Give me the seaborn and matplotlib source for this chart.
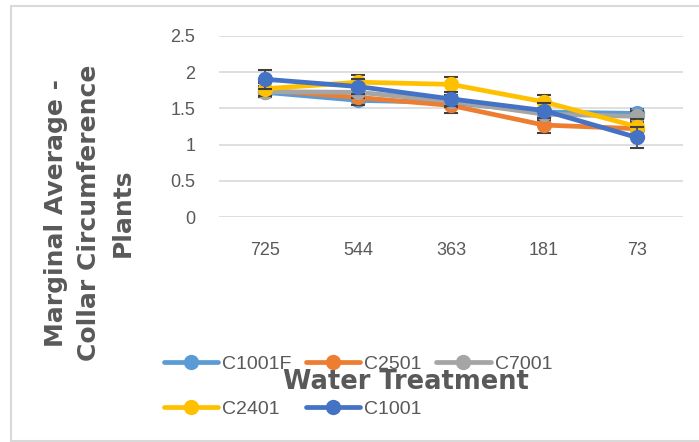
import pandas as pd
import matplotlib.pyplot as plt
import seaborn as sns
from matplotlib.lines import Line2D

# valores
tratamientos = ["725", "544", "363", "181", "73"]
series = ["C1001F", "C2501", "C7001", "C2401", "C1001"]
colores = ["#5B9BD5", "#ED7D31", "#A5A5A5", "#FFC000", "#4472C4"]

c1001f = [1.72, 1.61, 1.58, 1.45, 1.43]
c2501 = [1.75, 1.65, 1.54, 1.27, 1.22]
c7001 = [1.73, 1.72, 1.60, 1.42, 1.39]
c2401 = [1.77, 1.86, 1.83, 1.59, 1.25]
c1001 = [1.90, 1.80, 1.63, 1.47, 1.10]

err_c1001f = [0.06, 0.06, 0.06, 0.06, 0.06]
err_c2501 = [0.10, 0.10, 0.10, 0.11, 0.10]
err_c7001 = [0.08, 0.08, 0.08, 0.08, 0.08]
err_c2401 = [0.10, 0.10, 0.10, 0.10, 0.10]
err_c1001 = [0.13, 0.10, 0.10, 0.10, 0.14]

valores = [c1001f, c2501, c7001, c2401, c1001]
errores = [err_c1001f, err_c2501, err_c7001, err_c2401, err_c1001]

filas = []
for nombre, vals, errs in zip(series, valores, errores):
    for t, v, e in zip(tratamientos, vals, errs):
        filas.append({"tratamiento": t, "serie": nombre, "valor": v, "error": e})
df = pd.DataFrame(filas)

sns.set_theme(style="white")
plt.rcParams["font.family"] = ["Liberation Sans", "DejaVu Sans"]

fig = plt.figure(figsize=(6.99, 4.42), dpi=100)
ax = fig.add_axes([219 / 699, 1 - 217.3 / 442, 464 / 699, 181.6 / 442])

for i, (nombre, color) in enumerate(zip(series, colores)):
    sub = df[df["serie"] == nombre]
    ax.errorbar(sub["tratamiento"], sub["valor"], yerr=sub["error"], fmt="none",
                ecolor="#404040", elinewidth=1.2, capsize=5, capthick=1.5, zorder=3 + 2 * i)
    sns.lineplot(data=sub, x="tratamiento", y="valor", color=color, linewidth=3.4,
                 marker="o", markersize=11, markeredgewidth=0, sort=False, ax=ax,
                 zorder=4 + 2 * i, legend=False)

ax.set_xlim(-0.5, 4.5)
ax.set_ylim(0, 2.5)
ax.set_yticks([0, 0.5, 1, 1.5, 2, 2.5])
ax.set_yticklabels(["0", "0.5", "1", "1.5", "2", "2.5"])
ax.yaxis.grid(True, color="#D9D9D9", linewidth=1.2)
ax.xaxis.grid(False)
for s in ax.spines.values():
    s.set_visible(False)
ax.tick_params(axis="y", length=0, pad=17, labelsize=13, labelcolor="#595959")
ax.tick_params(axis="x", length=0, pad=18, labelsize=13, labelcolor="#595959")
ax.set_xlabel("")
ax.set_ylabel("")

# leyenda, orden por filas
orden = [0, 3, 1, 4, 2]
handles = [Line2D([], [], color=c, linewidth=3.4, marker="o", markersize=11,
                  markeredgewidth=0) for c in colores]
leg = fig.legend([handles[k] for k in orden], [series[k] for k in orden], ncol=3,
                 loc="upper left", bbox_to_anchor=(146 / 699, 1 - 338 / 442),
                 frameon=False, fontsize=14, labelcolor="#595959", handlelength=2.8,
                 handletextpad=0.2, columnspacing=0.75, labelspacing=1.4)

# titulos de ejes
fig.text(406 / 699, 1 - 382 / 442, "Water Treatment", ha="center", va="center",
         fontsize=18.5, fontweight="bold", family="DejaVu Sans", color="#595959", zorder=5)
fig.text(89 / 699, 1 - 213 / 442, "Marginal Average -\nCollar Circumference\nPlants",
         ha="center", va="center", rotation=90, fontsize=18, fontweight="bold",
         family="DejaVu Sans", color="#595959", linespacing=1.5)

# borde del grafico
borde = dict(color="#D9D9D9", linewidth=1.5, transform=fig.transFigure)
fig.add_artist(Line2D([11 / 699, 11 / 699], [1 - 6 / 442, 1 - 441 / 442], **borde))
fig.add_artist(Line2D([11 / 699, 1], [1 - 6 / 442, 1 - 6 / 442], **borde))
fig.add_artist(Line2D([11 / 699, 1], [1 - 441 / 442, 1 - 441 / 442], **borde))

fig.savefig("out.png", dpi=100)
